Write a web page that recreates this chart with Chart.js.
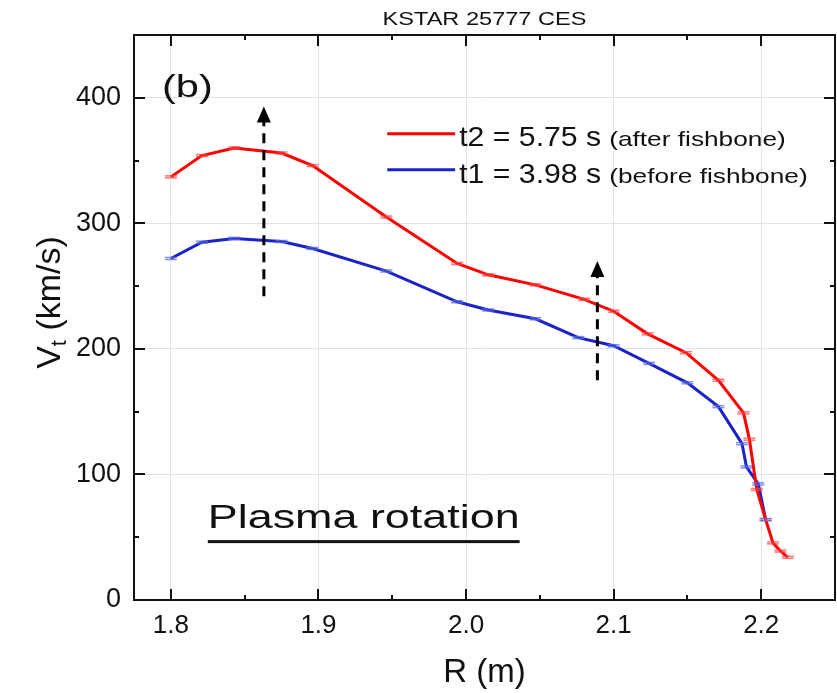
<!DOCTYPE html>
<html><head><meta charset="utf-8">
<script src="https://cdn.jsdelivr.net/npm/chart.js@4/dist/chart.umd.min.js"></script>
<style>html,body{margin:0;padding:0;background:#fff;}</style>
</head><body>
<canvas id="c" width="837" height="693"></canvas>
<script>
// ---- data ----
const chartTitle = 'KSTAR 25777 CES';
const xAxisTitle = 'R (m)';
const yAxisMain = 'V', yAxisSub = 't', yAxisRest = ' (km/s)';
const panelLabel = '(b)';
const noteText = 'Plasma rotation';
const xTicks = [1.8, 1.9, 2.0, 2.1, 2.2];
const xMinorTicks = [1.85, 1.95, 2.05, 2.15];
const yTicks = [0, 100, 200, 300, 400];
const yMinorTicks = [50, 150, 250, 350];
const seriesNames = ['t2 = 5.75 s', 't1 = 3.98 s'];
const seriesNotes = ['(after fishbone)', '(before fishbone)'];
const seriesColors = ['#ff0000', '#1a22c8'];
const capColors = ['rgba(255,70,70,0.75)', 'rgba(90,110,230,0.75)'];

const rT2 = [1.800, 1.821, 1.843, 1.875, 1.896, 1.946, 1.994, 2.015, 2.047, 2.080, 2.100, 2.123, 2.149, 2.171, 2.188, 2.192, 2.197, 2.203, 2.208, 2.213, 2.218];
const vT2 = [337, 354, 360, 356, 346, 305, 268, 259, 251, 239.5, 230, 212, 197, 175, 149, 128, 88, 64, 45.5, 39, 34];
const rT1 = [1.800, 1.821, 1.843, 1.875, 1.896, 1.946, 1.994, 2.015, 2.047, 2.076, 2.100, 2.124, 2.150, 2.171, 2.187, 2.190, 2.198, 2.203];
const vT1 = [272, 285, 288, 285.5, 280, 262, 237.5, 231, 224, 209, 202.5, 188.5, 173, 154, 124.5, 106, 92.5, 64];

const arrowR = [1.863, 2.089];
const arrowFrom = [242, 175];
const arrowTo = [393, 270];

const FONT = "'Liberation Sans', Arial, sans-serif";
const toPts = (xs, ys) => xs.map((x, i) => ({x: x, y: ys[i]}));

function stretchText(ctx, text, x, y, size, sx, align, baseline) {
  ctx.save();
  ctx.font = size + 'px ' + FONT;
  ctx.textBaseline = baseline || 'alphabetic';
  const w = ctx.measureText(text).width * sx;
  let x0 = x;
  if (align === 'center') x0 = x - w / 2;
  else if (align === 'right') x0 = x - w;
  ctx.translate(x0, y);
  ctx.scale(sx, 1);
  ctx.textAlign = 'left';
  ctx.fillText(text, 0, 0);
  ctx.restore();
  return w;
}

const decor = {
  id: 'decor',
  afterDatasetsDraw(chart) {
    const ctx = chart.ctx, xs = chart.scales.x, ys = chart.scales.y;
    const sets = [[rT2, vT2], [rT1, vT1]];
    sets.forEach((s, k) => {
      ctx.save();
      ctx.strokeStyle = capColors[k];
      ctx.lineWidth = 1.5;
      s[0].forEach((r, i) => {
        const px = xs.getPixelForValue(r);
        [s[1][i] + 0.8, s[1][i] - 0.8].forEach(v => {
          const py = ys.getPixelForValue(v);
          ctx.beginPath(); ctx.moveTo(px - 6, py); ctx.lineTo(px + 6, py); ctx.stroke();
        });
      });
      ctx.restore();
    });
  },
  afterDraw(chart) {
    const ctx = chart.ctx, xs = chart.scales.x, ys = chart.scales.y, a = chart.chartArea;
    ctx.save();
    ctx.fillStyle = '#111';
    ctx.strokeStyle = '#111';
    ctx.lineWidth = 2;
    ctx.strokeRect(a.left, a.top, a.right - a.left, a.bottom - a.top);
    const tick = (x1, y1, x2, y2) => { ctx.beginPath(); ctx.moveTo(x1, y1); ctx.lineTo(x2, y2); ctx.stroke(); };
    xTicks.forEach(v => { const p = Math.round(xs.getPixelForValue(v)); tick(p, a.bottom, p, a.bottom - 11); tick(p, a.top, p, a.top + 11); });
    xMinorTicks.forEach(v => { const p = Math.round(xs.getPixelForValue(v)); tick(p, a.bottom, p, a.bottom - 5); tick(p, a.top, p, a.top + 5); });
    yTicks.forEach(v => { const p = Math.round(ys.getPixelForValue(v)); tick(a.left, p, a.left + 11, p); tick(a.right, p, a.right - 11, p); });
    yMinorTicks.forEach(v => { const p = Math.round(ys.getPixelForValue(v)); tick(a.left, p, a.left + 5, p); tick(a.right, p, a.right - 5, p); });

    // dashed arrows
    arrowR.forEach((r, i) => {
      const px = xs.getPixelForValue(r);
      const y0 = ys.getPixelForValue(arrowFrom[i]);
      const y1 = ys.getPixelForValue(arrowTo[i]);
      ctx.save();
      ctx.strokeStyle = '#000'; ctx.fillStyle = '#000';
      ctx.lineWidth = 3; ctx.setLineDash([10, 7]);
      ctx.beginPath(); ctx.moveTo(px, y0); ctx.lineTo(px, y1 + 12); ctx.stroke();
      ctx.setLineDash([]);
      ctx.beginPath(); ctx.moveTo(px, y1); ctx.lineTo(px - 7, y1 + 16); ctx.lineTo(px + 7, y1 + 16); ctx.closePath(); ctx.fill();
      ctx.restore();
    });

    // legend
    const legX0 = xs.getPixelForValue(1.9466), legX1 = xs.getPixelForValue(1.9926);
    const legLineY = [371.3, 342.6], legBase = [361.2, 332.5];
    seriesNames.forEach((name, i) => {
      const ly = ys.getPixelForValue(legLineY[i]);
      ctx.save();
      ctx.strokeStyle = seriesColors[i]; ctx.lineWidth = 3;
      ctx.beginPath(); ctx.moveTo(legX0, ly); ctx.lineTo(legX1, ly); ctx.stroke();
      ctx.restore();
      const by = ys.getPixelForValue(legBase[i]);
      const w = stretchText(ctx, name, legX1 + 4, by, 28, 1.08, 'left');
      stretchText(ctx, seriesNotes[i], legX1 + 4 + w + 8, by, 21, 1.25, 'left');
    });

    // panel label
    stretchText(ctx, panelLabel, xs.getPixelForValue(1.7939), ys.getPixelForValue(401), 32, 1.3, 'left');

    // note with underline
    const nx = xs.getPixelForValue(1.825), ny = ys.getPixelForValue(57.4);
    const nw = stretchText(ctx, noteText, nx, ny, 33, 1.36, 'left');
    ctx.fillRect(nx, ys.getPixelForValue(46.5) - 1.5, nw, 3);

    // title
    stretchText(ctx, chartTitle, (a.left + a.right) / 2, 25, 19, 1.24, 'center');

    // y axis title with subscript
    ctx.save();
    ctx.translate(60, (a.top + a.bottom) / 2 - 15);
    ctx.rotate(-Math.PI / 2);
    ctx.textBaseline = 'alphabetic';
    ctx.font = '34px ' + FONT;
    const wV = ctx.measureText(yAxisMain).width;
    const wR = ctx.measureText(yAxisRest).width;
    ctx.font = '22px ' + FONT;
    const wt = ctx.measureText(yAxisSub).width;
    const total = wV + wt + wR;
    let cx = -total / 2;
    ctx.font = '34px ' + FONT;
    ctx.fillText(yAxisMain, cx, 0); cx += wV;
    ctx.font = '22px ' + FONT;
    ctx.fillText(yAxisSub, cx, 6); cx += wt;
    ctx.font = '34px ' + FONT;
    ctx.fillText(yAxisRest, cx, 0);
    ctx.restore();

    ctx.restore();
  }
};

new Chart(document.getElementById('c'), {
  type: 'scatter',
  data: {
    datasets: [
      {label: seriesNames[0], data: toPts(rT2, vT2), showLine: true, borderColor: seriesColors[0], borderWidth: 3, pointRadius: 0, tension: 0},
      {label: seriesNames[1], data: toPts(rT1, vT1), showLine: true, borderColor: seriesColors[1], borderWidth: 3, pointRadius: 0, tension: 0}
    ]
  },
  options: {
    responsive: false,
    animation: false,
    devicePixelRatio: 1,
    layout: {padding: {left: 0, right: 2, top: 35, bottom: 0}},
    plugins: {legend: {display: false}, title: {display: false}, tooltip: {enabled: false}},
    scales: {
      x: {
        type: 'linear', min: 1.775, max: 2.25,
        afterBuildTicks: s => { s.ticks = xTicks.map(v => ({value: v})); },
        afterFit: s => { s.height = 93; },
        grid: {color: '#e2e2e2', lineWidth: 1, drawTicks: false},
        border: {display: false},
        ticks: {font: {family: FONT, size: 26}, color: '#111', padding: 10, maxRotation: 0, autoSkip: false,
                callback: v => v.toFixed(1)},
        title: {display: true, text: xAxisTitle, color: '#111', font: {family: FONT, size: 33, lineHeight: 1}, padding: {top: 0, bottom: 4}}
      },
      y: {
        type: 'linear', min: 0, max: 450,
        afterBuildTicks: s => { s.ticks = yTicks.map(v => ({value: v})); },
        afterFit: s => { s.width = 134; },
        grid: {color: '#e2e2e2', lineWidth: 1, drawTicks: false},
        border: {display: false},
        ticks: {font: {family: FONT, size: 27}, color: '#111', padding: 13, autoSkip: false, callback: v => String(v)}
      }
    }
  },
  plugins: [decor]
});
</script>
</body></html>
